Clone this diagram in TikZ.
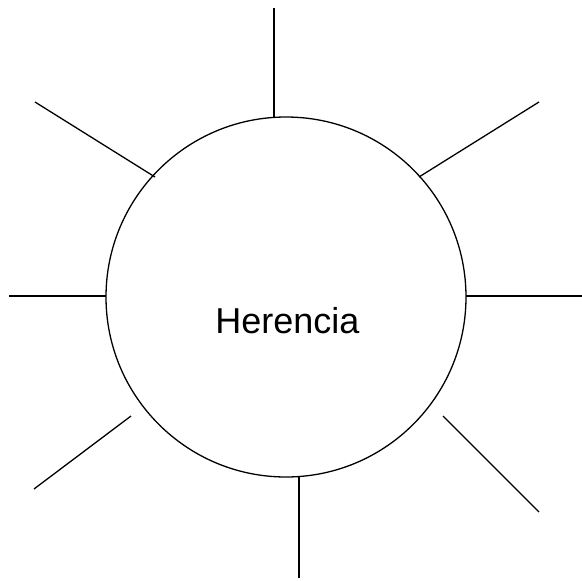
\documentclass[tikz,border=0pt]{standalone}
\usepackage{fontspec}
\setmainfont{Liberation Sans}
\begin{document}
\begin{tikzpicture}[x=1pt,y=-1pt,line width=1.3pt,
  ray/.style={draw=black,line width=1.3pt}]
\useasboundingbox (0,0) rectangle (582,581);
\node[circle,draw,line width=1.3pt,minimum size=360pt,inner sep=0pt] (c) at (286,297) {};
\node[font=\fontsize{36}{40}\selectfont,anchor=base,inner sep=0pt] (t) at (287.5,333.5) {Herencia};
\coordinate (a1) at (274,8);   \coordinate (b1) at (274,117);
\coordinate (a2) at (35,102);  \coordinate (b2) at (155,177);
\coordinate (a3) at (539,102); \coordinate (b3) at (419,177);
\coordinate (a4) at (9,296);   \coordinate (b4) at (106,296);
\coordinate (a5) at (582,296); \coordinate (b5) at (466,296);
\coordinate (a6) at (34,489);  \coordinate (b6) at (131,416);
\coordinate (a7) at (539,512); \coordinate (b7) at (443,416);
\coordinate (a8) at (299,578); \coordinate (b8) at (299,477);
\foreach \i in {1,...,8} {\draw[ray] (a\i) -- (b\i);}
\end{tikzpicture}
\end{document}
